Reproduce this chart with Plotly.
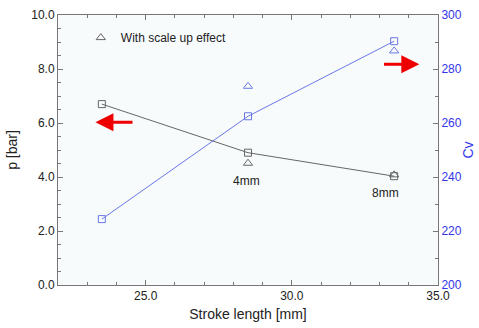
import plotly.graph_objects as go

stroke = [23.5, 28.5, 33.5]
p_bar = [6.7, 4.9, 4.03]
cv = [224.4, 262.5, 290.3]
stroke_scale = [28.5, 33.5]
p_scale = [4.51, 4.08]
cv_scale = [273.6, 286.7]
labels = ["4mm", "8mm"]

FONT = "Arial, Liberation Sans, sans-serif"
BLUE_TXT = "#3535e8"
BLUE_LN = "#6a78e6"
GRAY = "#666666"

fig = go.Figure()
fig.add_trace(go.Scatter(x=stroke, y=p_bar, mode="lines+markers",
                         line=dict(color=GRAY, width=1),
                         marker=dict(symbol="square-open", size=7, color=GRAY, line=dict(width=1)),
                         showlegend=False))
fig.add_trace(go.Scatter(x=stroke_scale, y=p_scale, mode="markers",
                         marker=dict(symbol="triangle-up-open", size=8, color=GRAY, line=dict(width=1)),
                         name="With scale up effect", showlegend=True))
fig.add_trace(go.Scatter(x=stroke, y=cv, mode="lines+markers", yaxis="y2",
                         line=dict(color=BLUE_LN, width=1),
                         marker=dict(symbol="square-open", size=7, color=BLUE_LN, line=dict(width=1)),
                         showlegend=False))
fig.add_trace(go.Scatter(x=stroke_scale, y=cv_scale, mode="markers", yaxis="y2",
                         marker=dict(symbol="triangle-up-open", size=8, color=BLUE_LN, line=dict(width=1)),
                         showlegend=False))

fig.add_annotation(x=28.45, y=3.85, text=labels[0], showarrow=False,
                   font=dict(size=12, color="#222", family=FONT))
fig.add_annotation(x=33.2, y=3.40, text=labels[1], showarrow=False,
                   font=dict(size=12, color="#222", family=FONT))

# red arrows
fig.add_annotation(x=23.28, y=6.03, ax=24.6, ay=6.03, axref="x", ayref="y",
                   xref="x", yref="y", text="", showarrow=True,
                   arrowhead=2, arrowsize=1.2, arrowwidth=3, arrowcolor="#ee0000")
fig.add_annotation(x=34.36, y=8.18, ax=33.1, ay=8.18, axref="x", ayref="y",
                   xref="x", yref="y", text="", showarrow=True,
                   arrowhead=2, arrowsize=1.2, arrowwidth=3, arrowcolor="#ee0000")

axis_common = dict(showgrid=False, zeroline=False, showline=True, linewidth=1,
                   ticks="inside", ticklen=5, automargin=False)

fig.update_layout(
    width=479, height=328,
    margin=dict(l=58, r=41, t=15, b=43),
    paper_bgcolor="white", plot_bgcolor="#f7fbfc",
    font=dict(family=FONT, size=12, color="#222"),
    xaxis=dict(range=[22, 35], dtick=5, tick0=25, tickformat=".1f",
               linecolor="#777", tickcolor="#777", mirror="ticks",
               minor=dict(ticks="inside", dtick=1, ticklen=3, tickcolor="#777"),
               title=dict(text="Stroke length [mm]", font=dict(size=14), standoff=6),
               **axis_common),
    yaxis=dict(range=[0, 10], dtick=2, tickformat=".1f",
               linecolor="#777", tickcolor="#777",
               minor=dict(ticks="inside", dtick=0.5, ticklen=3, tickcolor="#777"),
               title=dict(text="p [bar]", font=dict(size=14), standoff=10),
               **axis_common),
    yaxis2=dict(range=[200, 300], dtick=20, overlaying="y", side="right",
                linecolor="#777", tickcolor="#777",
                tickfont=dict(color=BLUE_TXT),
                minor=dict(ticks="inside", dtick=10, ticklen=3, tickcolor="#777"),
                title=dict(text="Cv", font=dict(size=14, color=BLUE_TXT), standoff=2),
                **axis_common),
    legend=dict(x=0.06, y=0.97, xanchor="left", yanchor="top",
                bgcolor="rgba(0,0,0,0)", font=dict(size=12, color="#222"),
                itemwidth=30),
)

fig.write_html("out.html", config={"displayModeBar": False},
               post_script="document.body.style.margin='0px';")
